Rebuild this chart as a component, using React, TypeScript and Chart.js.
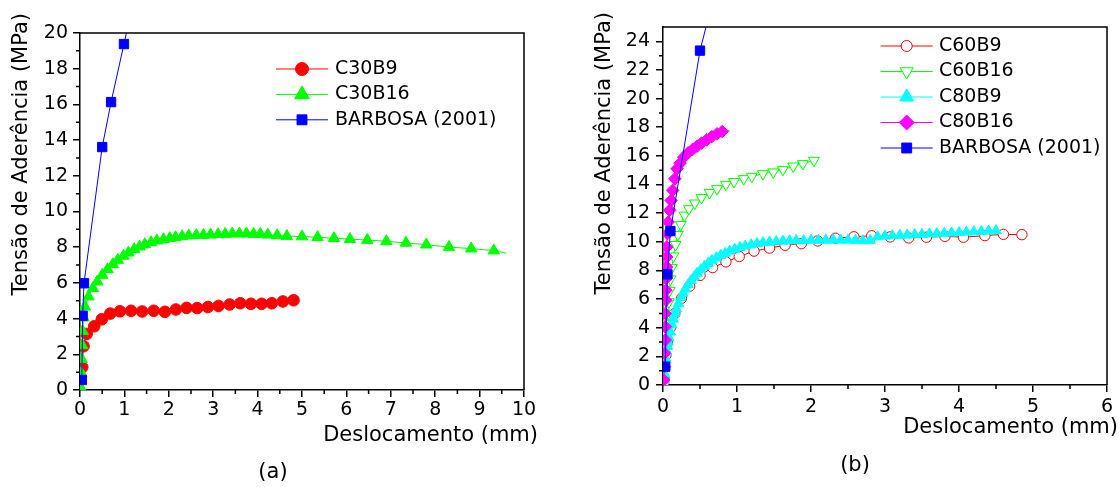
import React, { useEffect, useRef } from 'react';
import { Chart, registerables } from 'chart.js';
import { drawPoint } from 'chart.js/helpers';

Chart.register(...registerables);

const FONT = '"DejaVu Sans", "Liberation Sans", Arial, sans-serif';
const INK = '#000000';

// ---------------- Panel (a) data ----------------
const A_X_TICKS = [0, 1, 2, 3, 4, 5, 6, 7, 8, 9, 10];
const A_Y_TICKS = [0, 2, 4, 6, 8, 10, 12, 14, 16, 18, 20];

const C30B9_X = [0.05, 0.08, 0.15, 0.32, 0.49, 0.68, 0.9, 1.15, 1.4, 1.66, 1.91, 2.16, 2.4, 2.64, 2.88, 3.12, 3.37, 3.61, 3.85, 4.09, 4.32, 4.57, 4.81];
const C30B9_Y = [1.28, 2.45, 3.14, 3.57, 3.96, 4.28, 4.41, 4.44, 4.4, 4.44, 4.38, 4.51, 4.6, 4.59, 4.65, 4.71, 4.79, 4.86, 4.83, 4.83, 4.86, 4.96, 5.03];

const C30B16_X = [0.02, 0.03, 0.04, 0.05, 0.06, 0.08, 0.11, 0.19, 0.29, 0.39, 0.5, 0.62, 0.74, 0.85, 0.98, 1.09, 1.22, 1.34, 1.46, 1.6, 1.73, 1.88, 2.02, 2.15, 2.3, 2.45, 2.62, 2.78, 2.94, 3.11, 3.27, 3.43, 3.59, 3.75, 3.91, 4.06, 4.23, 4.44, 4.66, 5.0, 5.35, 5.72, 6.08, 6.47, 6.9, 7.34, 7.8, 8.31, 8.81, 9.32, 9.6];
const C30B16_Y = [0.12, 0.95, 1.72, 2.5, 3.3, 4.05, 4.67, 5.23, 5.7, 6.07, 6.44, 6.76, 7.04, 7.28, 7.51, 7.69, 7.88, 8.03, 8.16, 8.27, 8.37, 8.44, 8.5, 8.55, 8.61, 8.65, 8.67, 8.68, 8.7, 8.72, 8.74, 8.76, 8.76, 8.76, 8.74, 8.74, 8.7, 8.66, 8.62, 8.6, 8.56, 8.5, 8.45, 8.4, 8.33, 8.24, 8.14, 8.01, 7.92, 7.81, 7.67];

const BARBOSA_A_X = [0.04, 0.06, 0.09, 0.5, 0.7, 0.99, 1.25];
const BARBOSA_A_Y = [0.56, 4.16, 5.98, 13.61, 16.13, 19.38, 22.3];

// ---------------- Panel (b) data ----------------
const B_X_TICKS = [0, 1, 2, 3, 4, 5, 6];
const B_Y_TICKS = [0, 2, 4, 6, 8, 10, 12, 14, 16, 18, 20, 22, 24];

const C60B9_X = [0.01, 0.02, 0.04, 0.06, 0.1, 0.16, 0.25, 0.36, 0.5, 0.67, 0.85, 1.03, 1.23, 1.44, 1.65, 1.87, 2.09, 2.33, 2.58, 2.82, 3.07, 3.32, 3.56, 3.81, 4.06, 4.35, 4.6, 4.85];
const C60B9_Y = [0.2, 1.2, 2.1, 3.0, 4.0, 5.0, 6.05, 6.9, 7.65, 8.2, 8.6, 8.97, 9.35, 9.56, 9.76, 9.87, 10.06, 10.25, 10.35, 10.42, 10.34, 10.27, 10.32, 10.38, 10.32, 10.43, 10.52, 10.5];

const C60B16_X = [0.02, 0.03, 0.04, 0.05, 0.06, 0.07, 0.08, 0.09, 0.1, 0.12, 0.14, 0.17, 0.2, 0.24, 0.29, 0.35, 0.43, 0.52, 0.63, 0.73, 0.85, 0.96, 1.09, 1.2, 1.35, 1.49, 1.62, 1.76, 1.89, 2.04];
const C60B16_Y = [0.3, 1.5, 2.5, 3.5, 4.3, 5.0, 5.8, 6.6, 7.4, 8.2, 9.0, 9.8, 10.5, 11.2, 11.85, 12.3, 12.7, 13.08, 13.43, 13.7, 14.0, 14.2, 14.4, 14.56, 14.75, 14.87, 15.05, 15.28, 15.45, 15.68];

const C80B9_X = [0.01, 0.02, 0.03, 0.04, 0.05, 0.06, 0.07, 0.08, 0.1, 0.12, 0.14, 0.16, 0.18, 0.21, 0.24, 0.27, 0.3, 0.34, 0.38, 0.42, 0.46, 0.51, 0.56, 0.61, 0.66, 0.72, 0.78, 0.84, 0.9, 0.97, 1.04, 1.11, 1.19, 1.27, 1.35, 1.44, 1.53, 1.62, 1.71, 1.8, 1.9, 2.0, 2.1, 2.2, 2.3, 2.4, 2.5, 2.6, 2.7, 2.8, 2.9, 3.0, 3.1, 3.2, 3.3, 3.4, 3.5, 3.6, 3.7, 3.8, 3.9, 4.0, 4.1, 4.2, 4.3, 4.4, 4.5];
const C80B9_Y = [0.3, 0.8, 1.3, 1.8, 2.3, 2.7, 3.0, 3.3, 3.7, 4.2, 4.6, 5.0, 5.3, 5.7, 6.1, 6.4, 6.7, 7.0, 7.3, 7.55, 7.8, 8.05, 8.3, 8.5, 8.7, 8.88, 9.05, 9.2, 9.35, 9.48, 9.6, 9.7, 9.8, 9.88, 9.94, 9.98, 10.02, 10.05, 10.07, 10.08, 10.08, 10.1, 10.1, 10.11, 10.12, 10.12, 10.12, 10.1, 10.08, 10.1, 10.35, 10.4, 10.42, 10.45, 10.47, 10.5, 10.52, 10.55, 10.57, 10.6, 10.62, 10.65, 10.68, 10.7, 10.72, 10.75, 10.78];

const C80B16_X = [0.01, 0.02, 0.02, 0.03, 0.03, 0.03, 0.04, 0.04, 0.04, 0.05, 0.05, 0.05, 0.06, 0.07, 0.09, 0.11, 0.13, 0.16, 0.19, 0.23, 0.28, 0.34, 0.4, 0.46, 0.52, 0.59, 0.66, 0.73, 0.8, 0.9];
const C80B16_Y = [0.35, 1.28, 2.21, 3.14, 4.07, 4.99, 5.92, 6.62, 7.43, 8.25, 8.94, 9.64, 10.57, 11.38, 12.2, 12.89, 13.59, 14.4, 15.1, 15.49, 15.91, 16.22, 16.45, 16.68, 16.89, 17.12, 17.35, 17.54, 17.7, 17.75];

const BARBOSA_B_X = [0.03, 0.06, 0.1, 0.5, 1.0];
const BARBOSA_B_Y = [1.28, 7.73, 10.75, 23.35, 33.5];

// ---------------- styling / layout ----------------
type Series = {
  label: string;
  xs: number[];
  ys: number[];
  color: string;
  fill: string;
  style: string;
  rot: number;
  r: number;
  lr: number;
  tail: boolean;
};

const SERIES_A: Series[] = [
  { label: 'C30B9', xs: C30B9_X, ys: C30B9_Y, color: '#FF0000', fill: '#FF0000', style: 'circle', rot: 0, r: 5.8, lr: 6.5, tail: false },
  { label: 'C30B16', xs: C30B16_X, ys: C30B16_Y, color: '#00FF00', fill: '#00FF00', style: 'triangle', rot: 0, r: 6.6, lr: 8.5, tail: true },
  { label: 'BARBOSA (2001)', xs: BARBOSA_A_X, ys: BARBOSA_A_Y, color: '#0000FF', fill: '#0000FF', style: 'rect', rot: 0, r: 6.6, lr: 7, tail: true },
];

const SERIES_B: Series[] = [
  { label: 'C60B9', xs: C60B9_X, ys: C60B9_Y, color: '#FF0000', fill: '#FFFFFF', style: 'circle', rot: 0, r: 5.2, lr: 5.5, tail: false },
  { label: 'C60B16', xs: C60B16_X, ys: C60B16_Y, color: '#00FF00', fill: '#FFFFFF', style: 'triangle', rot: 180, r: 6.3, lr: 7.5, tail: false },
  { label: 'C80B9', xs: C80B9_X, ys: C80B9_Y, color: '#00FFFF', fill: '#00FFFF', style: 'triangle', rot: 0, r: 6.0, lr: 8, tail: false },
  { label: 'C80B16', xs: C80B16_X, ys: C80B16_Y, color: '#FF00FF', fill: '#FF00FF', style: 'rectRot', rot: 0, r: 6.3, lr: 7.5, tail: true },
  { label: 'BARBOSA (2001)', xs: BARBOSA_B_X, ys: BARBOSA_B_Y, color: '#0000FF', fill: '#0000FF', style: 'rect', rot: 0, r: 6.6, lr: 7, tail: true },
];

type PanelCfg = {
  offset: number;
  series: Series[];
  xMax: number;
  yMax: number;
  xTicks: number[];
  yTicks: number[];
  pad: { top: number; right: number };
  yWidth: number;
  xHeight: number;
  xLabelPad: number;
  yLabelPad: number;
  legend: { x1: number; x2: number; mx: number; tx: number; y0: number; dy: number };
  xTitle: { x: number; y: number };
  yTitle: { x: number; top: number };
  tag: { text: string; x: number; y: number };
};

const PANEL_A: PanelCfg = {
  offset: 0,
  series: SERIES_A,
  xMax: 10,
  yMax: 20,
  xTicks: A_X_TICKS,
  yTicks: A_Y_TICKS,
  pad: { top: 33, right: 36 },
  yWidth: 80,
  xHeight: 97,
  xLabelPad: 2,
  yLabelPad: 5,
  legend: { x1: 276, x2: 328, mx: 302, tx: 335, y0: 69, dy: 25.4 },
  xTitle: { x: 538, y: 436 },
  yTitle: { x: 21.5, top: 13 },
  tag: { text: '(a)', x: 273, y: 473 },
};

const PANEL_B: PanelCfg = {
  offset: 560,
  series: SERIES_B,
  xMax: 6,
  yMax: 25,
  xTicks: B_X_TICKS,
  yTicks: B_Y_TICKS,
  pad: { top: 27, right: 13 },
  yWidth: 103,
  xHeight: 102,
  xLabelPad: 4,
  yLabelPad: 6,
  legend: { x1: 320.7, x2: 372.7, mx: 346.7, tx: 379, y0: 46, dy: 25.5 },
  xTitle: { x: 558, y: 428 },
  yTitle: { x: 44.7, top: 12 },
  tag: { text: '(b)', x: 295, y: 466 },
};

function midpoints(ticks: number[]): number[] {
  const out: number[] = [];
  for (let i = 0; i < ticks.length - 1; i++) out.push((ticks[i] + ticks[i + 1]) / 2);
  return out;
}

const extrasPlugin = {
  id: 'extras',
  beforeDatasetsDraw(chart: any, _args: any, opts: any) {
    const cfg: PanelCfg = opts.cfg;
    const ctx = chart.ctx;
    const a = chart.chartArea;
    const xs = chart.scales.x;
    const ys = chart.scales.y;
    ctx.save();
    ctx.strokeStyle = INK;
    ctx.lineWidth = 1.5;
    ctx.beginPath();
    for (const v of midpoints(cfg.xTicks)) {
      const px = xs.getPixelForValue(v);
      ctx.moveTo(px, a.bottom);
      ctx.lineTo(px, a.bottom + 4);
    }
    for (const v of midpoints(cfg.yTicks)) {
      const py = ys.getPixelForValue(v);
      ctx.moveTo(a.left, py);
      ctx.lineTo(a.left - 4, py);
    }
    ctx.moveTo(a.left, a.top);
    ctx.lineTo(a.right, a.top);
    ctx.lineTo(a.right, a.bottom);
    ctx.stroke();
    ctx.restore();
  },
  afterDraw(chart: any, _args: any, opts: any) {
    const cfg: PanelCfg = opts.cfg;
    const ctx = chart.ctx;
    ctx.save();
    const L = cfg.legend;
    cfg.series.forEach((s, i) => {
      const y = L.y0 + i * L.dy;
      ctx.strokeStyle = s.color;
      ctx.lineWidth = 1;
      ctx.beginPath();
      ctx.moveTo(L.x1, y);
      ctx.lineTo(L.x2, y);
      ctx.stroke();
      ctx.fillStyle = s.fill;
      ctx.strokeStyle = s.color;
      ctx.lineWidth = 1;
      drawPoint(ctx, { pointStyle: s.style, rotation: s.rot, radius: s.lr, borderWidth: 1 } as any, L.mx, y);
      ctx.fillStyle = INK;
      ctx.font = `19px ${FONT}`;
      ctx.textAlign = 'left';
      ctx.textBaseline = 'middle';
      ctx.fillText(s.label, L.tx, y);
    });
    ctx.fillStyle = INK;
    ctx.font = `21px ${FONT}`;
    ctx.textAlign = 'right';
    ctx.textBaseline = 'middle';
    ctx.fillText('Deslocamento (mm)', cfg.xTitle.x, cfg.xTitle.y);
    ctx.save();
    ctx.translate(cfg.yTitle.x, cfg.yTitle.top);
    ctx.rotate(-Math.PI / 2);
    ctx.textAlign = 'right';
    ctx.textBaseline = 'middle';
    ctx.fillText('Tensão de Aderência (MPa)', 0, 0);
    ctx.restore();
    ctx.textAlign = 'center';
    ctx.textBaseline = 'middle';
    ctx.fillText(cfg.tag.text, cfg.tag.x, cfg.tag.y);
    ctx.restore();
  },
};

function buildConfig(cfg: PanelCfg): any {
  const n = cfg.series.length;
  const datasets = cfg.series.map((s, i) => {
    const last = s.xs.length - 1;
    return {
      label: s.label,
      data: s.xs.map((x, k) => ({ x, y: s.ys[k] })),
      showLine: true,
      borderColor: s.color,
      borderWidth: 1,
      backgroundColor: s.fill,
      pointStyle: s.style,
      rotation: s.rot,
      pointRadius: s.xs.map((_, k) => (s.tail && k === last ? 0 : s.r)),
      pointBackgroundColor: s.fill,
      pointBorderColor: s.color,
      pointBorderWidth: 1,
      pointHoverRadius: 0,
      tension: 0,
      clip: 0,
      order: n - i,
    };
  });
  const tickFont = { family: FONT, size: 19 };
  return {
    type: 'scatter',
    data: { datasets },
    options: {
      animation: false,
      responsive: false,
      devicePixelRatio: 1,
      events: [],
      layout: { padding: { top: cfg.pad.top, right: cfg.pad.right, left: 0, bottom: 0 } },
      scales: {
        x: {
          type: 'linear',
          min: 0,
          max: cfg.xMax,
          afterFit: (s: any) => { s.height = cfg.xHeight; },
          afterBuildTicks: (s: any) => { s.ticks = cfg.xTicks.map((v) => ({ value: v })); },
          ticks: { font: tickFont, color: INK, padding: cfg.xLabelPad, maxRotation: 0, autoSkip: false, callback: (v: any) => String(v) },
          grid: { display: true, drawOnChartArea: false, drawTicks: true, tickLength: 7, color: INK, lineWidth: 1.5 },
          border: { display: true, color: INK, width: 1.5 },
        },
        y: {
          type: 'linear',
          min: 0,
          max: cfg.yMax,
          afterFit: (s: any) => { s.width = cfg.yWidth; },
          afterBuildTicks: (s: any) => { s.ticks = cfg.yTicks.map((v) => ({ value: v })); },
          ticks: { font: tickFont, color: INK, padding: cfg.yLabelPad, autoSkip: false, callback: (v: any) => String(v) },
          grid: { display: true, drawOnChartArea: false, drawTicks: true, tickLength: 7, color: INK, lineWidth: 1.5 },
          border: { display: true, color: INK, width: 1.5 },
        },
      },
      plugins: {
        legend: { display: false },
        tooltip: { enabled: false },
        extras: { cfg },
      },
    },
    plugins: [extrasPlugin],
  };
}

function Panel({ cfg }: { cfg: PanelCfg }) {
  const ref = useRef<HTMLCanvasElement>(null);
  useEffect(() => {
    const chart = new Chart(ref.current as HTMLCanvasElement, buildConfig(cfg));
    return () => chart.destroy();
  }, [cfg]);
  return (
    <canvas
      ref={ref}
      width={560}
      height={487}
      style={{ position: 'absolute', left: cfg.offset, top: 0, width: 560, height: 487 }}
    />
  );
}

export default function App() {
  return (
    <div style={{ position: 'absolute', left: 0, top: 0, width: 1120, height: 487, background: '#fff', overflow: 'hidden' }}>
      <Panel cfg={PANEL_A} />
      <Panel cfg={PANEL_B} />
    </div>
  );
}
